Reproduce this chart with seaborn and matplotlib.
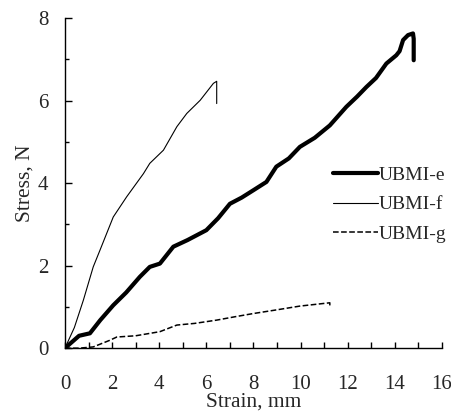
import seaborn as sns
import matplotlib.pyplot as plt
import pandas as pd
from matplotlib.ticker import MultipleLocator

# data
e_strain = [0, 0.3, 0.6, 1.06, 1.5, 2.05, 2.6, 3.18, 3.6, 4.03, 4.6, 5.2, 6.0, 6.5, 7.0, 7.5, 8.0,
            8.55, 8.97, 9.5, 9.97, 10.6, 11.24, 11.94, 12.4, 12.79, 13.2, 13.64, 14.06, 14.2,
            14.35, 14.56, 14.77, 14.8, 14.8]
e_stress = [0, 0.15, 0.3, 0.36, 0.68, 1.04, 1.35, 1.73, 1.97, 2.05, 2.46, 2.62, 2.86, 3.15, 3.5,
            3.65, 3.83, 4.03, 4.4, 4.6, 4.88, 5.1, 5.4, 5.85, 6.1, 6.33, 6.55, 6.9, 7.1, 7.2,
            7.47, 7.59, 7.63, 7.5, 6.98]

f_strain = [0, 0.4, 0.78, 1.2, 1.49, 2.05, 2.62, 3.33, 3.6, 4.18, 4.75, 5.17, 5.74, 6.3, 6.44, 6.44]
f_stress = [0, 0.5, 1.16, 1.97, 2.38, 3.18, 3.67, 4.23, 4.48, 4.8, 5.37, 5.69, 6.01, 6.42, 6.47, 5.93]

g_strain = [0, 0.6, 1.2, 1.9, 2.2, 3.0, 4.03, 4.75, 5.5, 6.44, 7.2, 8.0, 9.0, 9.97, 11.24, 11.24]
g_stress = [0, 0.0, 0.03, 0.19, 0.27, 0.3, 0.4, 0.56, 0.6, 0.68, 0.76, 0.84, 0.93, 1.02, 1.1, 1.0]

sns.set_style("ticks")
plt.rcParams['font.family'] = ['Liberation Serif', 'DejaVu Serif']
plt.rcParams['xtick.direction'] = 'in'
plt.rcParams['ytick.direction'] = 'in'

fig = plt.figure(figsize=(4.51, 4.13), dpi=100)
ax = fig.add_axes([0.144, 0.157, 0.836, 0.799])

series = [("UBMI-e", e_strain, e_stress, 3.0, "-"),
          ("UBMI-f", f_strain, f_stress, 0.8, "-"),
          ("UBMI-g", g_strain, g_stress, 1.1, "--")]
for name, xs, ys, lw, ls in series:
    df = pd.DataFrame({"strain": xs, "stress": ys})
    sns.lineplot(data=df, x="strain", y="stress", sort=False, estimator=None,
                 color="black", linewidth=lw, linestyle=ls, label=name, ax=ax)

ax.set_xlim(0, 16)
ax.set_ylim(0, 8)
ax.xaxis.set_major_locator(MultipleLocator(2))
ax.xaxis.set_minor_locator(MultipleLocator(1))
ax.yaxis.set_major_locator(MultipleLocator(2))
ax.yaxis.set_minor_locator(MultipleLocator(1))
ax.tick_params(axis='both', which='both', direction='in', color='black', width=1, labelsize=15)
ax.tick_params(axis='x', which='both', length=4, pad=19)
ax.tick_params(axis='y', which='major', length=5, pad=12)
ax.tick_params(axis='y', which='minor', length=3)
sns.despine(ax=ax)
for s in ["left", "bottom"]:
    ax.spines[s].set_color("black")
    ax.spines[s].set_linewidth(1)

ax.set_xlabel("Strain, mm", fontsize=15.5, labelpad=-1)
ax.set_ylabel("Stress, N", fontsize=15.5, labelpad=2)

ax.legend(loc="center left", bbox_to_anchor=(0.69, 0.435), frameon=False, fontsize=14,
          handlelength=2.3, handletextpad=0.05, labelspacing=0.6, borderaxespad=0)

fig.savefig("out.png", dpi=100)
